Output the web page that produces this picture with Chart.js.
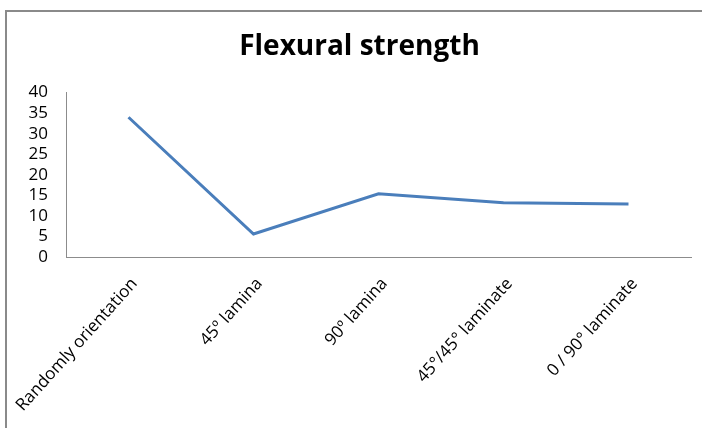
<!DOCTYPE html>
<html>
<head>
<meta charset="utf-8">
<script src="https://cdn.jsdelivr.net/npm/chart.js@4/dist/chart.umd.min.js"></script>
<style>
  html, body { margin: 0; padding: 0; background: #fff; }
  #wrap { position: relative; width: 702px; height: 428px; }
</style>
</head>
<body>
<div id="wrap"><canvas id="chart" width="702" height="428"></canvas></div>
<script>
// Specimen categories and measured flexural strength
const categories = [
  'Randomly orientation',
  '45º lamina',
  '90º lamina',
  '45°/45° laminate',
  '0 / 90° laminate'
];
const flexuralStrength = [34, 5.6, 15.4, 13.2, 12.9];
const yTicks = [0, 5, 10, 15, 20, 25, 30, 35, 40];

const FONT = '"Open Sans", Lato, "DejaVu Sans", sans-serif';

// White page with a grey frame along the left and top edges
const framePlugin = {
  id: 'frame',
  beforeDraw(chart) {
    const ctx = chart.ctx;
    ctx.save();
    ctx.fillStyle = '#ffffff';
    ctx.fillRect(0, 0, chart.width, chart.height);
    ctx.fillStyle = '#8a8a8a';
    ctx.fillRect(5, 10, 2, chart.height - 10);
    ctx.fillRect(5, 10, chart.width - 5, 2);
    ctx.restore();
  }
};

new Chart(document.getElementById('chart'), {
  type: 'line',
  data: {
    labels: categories,
    datasets: [{
      label: 'Flexural strength',
      data: flexuralStrength,
      borderColor: '#4a7ebb',
      borderWidth: 3,
      pointRadius: 0,
      tension: 0,
      fill: false
    }]
  },
  options: {
    responsive: false,
    animation: false,
    layout: { padding: { left: 28, right: 11, top: 0, bottom: 0 } },
    plugins: {
      legend: { display: false },
      tooltip: { enabled: false },
      title: {
        display: true,
        text: 'Flexural strength',
        color: '#000',
        font: { family: FONT, size: 28, weight: 'bold' },
        padding: { top: 30, bottom: 29 }
      }
    },
    scales: {
      x: {
        offset: true,
        grid: { display: false, drawTicks: false },
        border: { display: true, color: '#8c8c8c', width: 1 },
        ticks: {
          color: '#000',
          font: { family: FONT, size: 17 },
          minRotation: 48,
          maxRotation: 48,
          padding: 17,
          labelOffset: 6,
          autoSkip: false
        },
        afterFit(scale) {
          scale.height = 171;
          scale.paddingLeft = 0;
          scale.paddingRight = 0;
        }
      },
      y: {
        min: 0,
        max: 40,
        afterBuildTicks(scale) { scale.ticks = yTicks.map(v => ({ value: v })); },
        grid: { display: false, drawTicks: false },
        border: { display: true, color: '#8c8c8c', width: 1 },
        ticks: {
          color: '#000',
          font: { family: FONT, size: 17 },
          padding: 18,
          autoSkip: false
        },
        afterFit(scale) {
          scale.width = 38;
          scale.paddingTop = 0;
          scale.paddingBottom = 0;
        }
      }
    }
  },
  plugins: [framePlugin]
});
</script>
</body>
</html>
